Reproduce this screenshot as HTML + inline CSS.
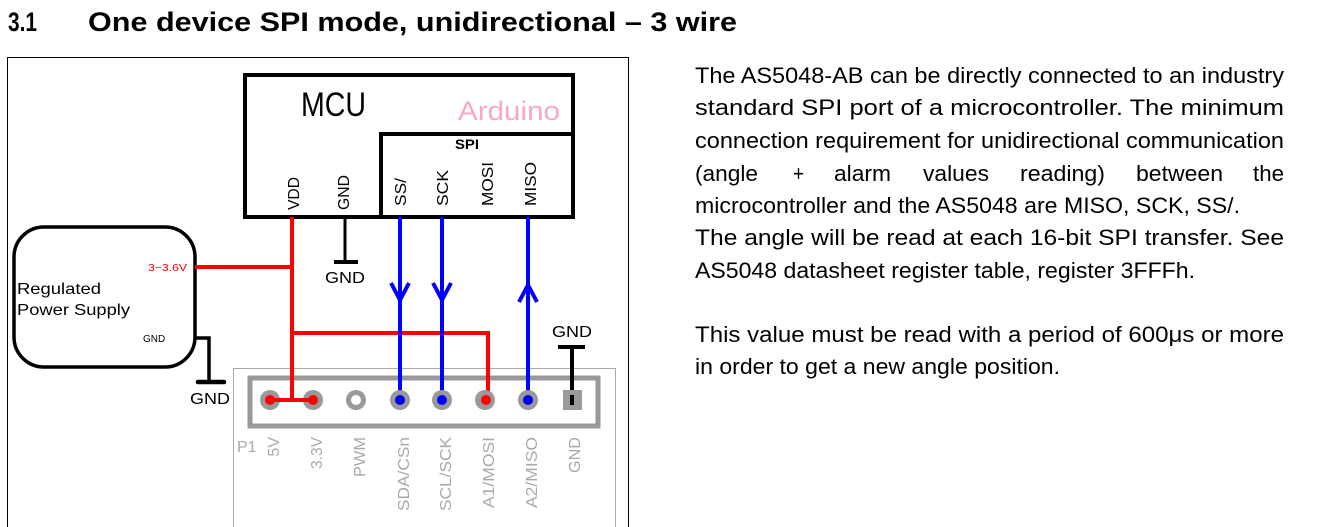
<!DOCTYPE html>
<html><head><meta charset="utf-8"><style>
html,body{margin:0;padding:0;background:#fff;width:1323px;height:527px;overflow:hidden}
svg{display:block;font-family:"Liberation Sans",Arial,sans-serif}
</style></head><body>
<svg width="1323" height="527" viewBox="0 0 1323 527" xmlns="http://www.w3.org/2000/svg">
<text x="8" y="31" font-size="27" font-weight="bold" textLength="29" lengthAdjust="spacingAndGlyphs">3.1</text>
<text x="88" y="31" font-size="27" font-weight="bold" textLength="649" lengthAdjust="spacingAndGlyphs">One device SPI mode, unidirectional – 3 wire</text>
<path d="M7.5 527 V57.5 H628.5 V527" fill="none" stroke="#000" stroke-width="1"/>
<rect x="233.5" y="368.5" width="382" height="170" fill="none" stroke="#aaa" stroke-width="1"/>
<rect x="250" y="378" width="348" height="48" fill="none" stroke="#999" stroke-width="5"/>
<rect x="245" y="75" width="328" height="142" fill="none" stroke="#000" stroke-width="4"/>
<path d="M381 217 V134 H573" fill="none" stroke="#000" stroke-width="4"/>
<text x="301" y="116" font-size="34" textLength="65" lengthAdjust="spacingAndGlyphs">MCU</text>
<text x="458" y="120" font-size="27" fill="#f8a8c0" textLength="102" lengthAdjust="spacingAndGlyphs">Arduino</text>
<text x="455" y="149" font-size="14" font-weight="bold" textLength="24" lengthAdjust="spacingAndGlyphs">SPI</text>
<g font-size="16">
<text transform="translate(299,210) rotate(-90)" textLength="33" lengthAdjust="spacingAndGlyphs">VDD</text>
<text transform="translate(349,210) rotate(-90)" textLength="35" lengthAdjust="spacingAndGlyphs">GND</text>
<text transform="translate(406,206) rotate(-90)" textLength="28" lengthAdjust="spacingAndGlyphs">SS/</text>
<text transform="translate(448,206) rotate(-90)" textLength="36" lengthAdjust="spacingAndGlyphs">SCK</text>
<text transform="translate(493,206) rotate(-90)" textLength="44" lengthAdjust="spacingAndGlyphs">MOSI</text>
<text transform="translate(536,206) rotate(-90)" textLength="44" lengthAdjust="spacingAndGlyphs">MISO</text>
</g>
<rect x="14" y="227" width="181" height="140" rx="30" ry="30" fill="none" stroke="#000" stroke-width="3.5"/>
<text x="17" y="294" font-size="16" textLength="84" lengthAdjust="spacingAndGlyphs">Regulated</text>
<text x="17" y="315" font-size="16" textLength="113" lengthAdjust="spacingAndGlyphs">Power Supply</text>
<text x="148" y="271" font-size="10" fill="#f00" textLength="39" lengthAdjust="spacingAndGlyphs">3~3.6V</text>
<text x="143" y="342" font-size="10">GND</text>
<path d="M195 338 H209 V382" fill="none" stroke="#000" stroke-width="3.5"/>
<path d="M198 382 H224" stroke="#000" stroke-width="4.5" stroke-linecap="round"/>
<text x="190" y="404" font-size="16" textLength="40" lengthAdjust="spacingAndGlyphs">GND</text>
<g stroke="#f00" stroke-width="4" fill="none">
<path d="M292 217 V400"/>
<path d="M195 267 H292"/>
<path d="M292 333 H488 V400"/>
<path d="M270 400 H313"/>
</g>
<path d="M345 217 V262" stroke="#000" stroke-width="3"/>
<path d="M334 262 H358" stroke="#000" stroke-width="4"/>
<text x="325" y="283" font-size="16" textLength="40" lengthAdjust="spacingAndGlyphs">GND</text>
<g stroke="#00f" stroke-width="4" fill="none">
<path d="M400 217 V400"/><path d="M391 283 L400 300 L409 283"/>
<path d="M442 217 V400"/><path d="M433 283 L442 300 L451 283"/>
<path d="M528 217 V400"/><path d="M519 302 L528 285 L537 302"/>
</g>
<text x="552" y="337" font-size="16" textLength="40" lengthAdjust="spacingAndGlyphs">GND</text>
<path d="M558 347 H585" stroke="#000" stroke-width="4"/>
<path d="M572 347 V405" stroke="#000" stroke-width="4"/>
<g fill="#999">
<circle cx="270" cy="400" r="10"/><circle cx="313" cy="400" r="10"/><circle cx="356" cy="400" r="10"/>
<circle cx="400" cy="400" r="10"/><circle cx="442" cy="400" r="10"/><circle cx="485" cy="400" r="10"/>
<circle cx="528" cy="400" r="10"/><rect x="563" y="390" width="19" height="20"/>
</g>
<circle cx="270" cy="400" r="5" fill="#f00"/><circle cx="313" cy="400" r="5" fill="#f00"/>
<circle cx="356" cy="400" r="5" fill="#fff"/>
<circle cx="400" cy="400" r="5" fill="#00f"/><circle cx="442" cy="400" r="5" fill="#00f"/>
<circle cx="486" cy="400" r="5" fill="#f00"/><circle cx="528" cy="400" r="5" fill="#00f"/>
<path d="M572 395 V405" stroke="#000" stroke-width="4"/>
<path d="M270 400 H313" stroke="#f00" stroke-width="4"/>
<path d="M292 333 V400" stroke="#f00" stroke-width="4"/>
<g font-size="16" fill="#aaa" text-anchor="end">
<text x="237" y="452" text-anchor="start">P1</text>
<text transform="translate(279,437) rotate(-90)">5V</text>
<text transform="translate(322,437) rotate(-90)" textLength="32" lengthAdjust="spacingAndGlyphs">3.3V</text>
<text transform="translate(365,437) rotate(-90)" textLength="40" lengthAdjust="spacingAndGlyphs">PWM</text>
<text transform="translate(409,437) rotate(-90)" textLength="74" lengthAdjust="spacingAndGlyphs">SDA/CSn</text>
<text transform="translate(451,437) rotate(-90)" textLength="74" lengthAdjust="spacingAndGlyphs">SCL/SCK</text>
<text transform="translate(494,437) rotate(-90)" textLength="71" lengthAdjust="spacingAndGlyphs">A1/MOSI</text>
<text transform="translate(537,437) rotate(-90)" textLength="71" lengthAdjust="spacingAndGlyphs">A2/MISO</text>
<text transform="translate(580,437) rotate(-90)" textLength="36" lengthAdjust="spacingAndGlyphs">GND</text>
</g>
<g font-size="22">
<text x="695" y="83" textLength="589" lengthAdjust="spacingAndGlyphs">The AS5048-AB can be directly connected to an industry</text>
<text x="695" y="115" textLength="589" lengthAdjust="spacingAndGlyphs">standard  SPI  port  of  a  microcontroller.  The  minimum</text>
<text x="695" y="148" textLength="589" lengthAdjust="spacingAndGlyphs">connection requirement for unidirectional communication</text>
<text x="695" y="181" textLength="63" lengthAdjust="spacingAndGlyphs">(angle</text>
<text x="793" y="181" textLength="11" lengthAdjust="spacingAndGlyphs">+</text>
<text x="834" y="181" textLength="57" lengthAdjust="spacingAndGlyphs">alarm</text>
<text x="923" y="181" textLength="66" lengthAdjust="spacingAndGlyphs">values</text>
<text x="1020" y="181" textLength="85" lengthAdjust="spacingAndGlyphs">reading)</text>
<text x="1136" y="181" textLength="87" lengthAdjust="spacingAndGlyphs">between</text>
<text x="1253" y="181" textLength="31" lengthAdjust="spacingAndGlyphs">the</text>
<text x="695" y="213" textLength="545" lengthAdjust="spacingAndGlyphs">microcontroller and the AS5048 are MISO, SCK, SS/.</text>
<text x="695" y="245" textLength="589" lengthAdjust="spacingAndGlyphs">The angle will be read at each 16-bit SPI transfer. See</text>
<text x="695" y="278" textLength="500" lengthAdjust="spacingAndGlyphs">AS5048 datasheet register table, register 3FFFh.</text>
<text x="695" y="342" textLength="589" lengthAdjust="spacingAndGlyphs">This value must be read with a period of 600μs or more</text>
<text x="695" y="374" textLength="365" lengthAdjust="spacingAndGlyphs">in order to get a new angle position.</text>
</g>
</svg>
</body></html>
